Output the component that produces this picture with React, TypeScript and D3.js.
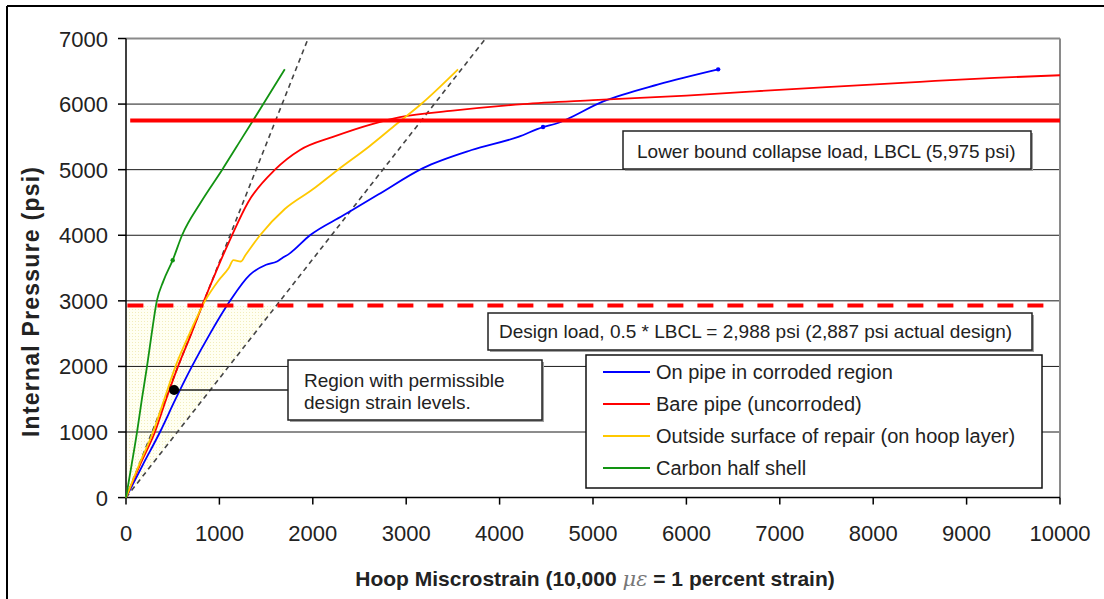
import * as d3 from 'd3'

// axis ticks
const xTicks = [0, 1000, 2000, 3000, 4000, 5000, 6000, 7000, 8000, 9000, 10000]
const yTicks = [0, 1000, 2000, 3000, 4000, 5000, 6000, 7000]

// measured strain (x) vs internal pressure (y)
const corroded: [number, number][] = [
  [0, 0], [180, 500], [364, 1000], [530, 1500], [706, 2000], [900, 2500], [1114, 3000],
  [1328, 3400], [1500, 3550], [1617, 3600], [1670, 3650], [1750, 3720], [1970, 4000],
  [2323, 4300], [2700, 4620], [3180, 5024], [3700, 5300], [4200, 5500], [4465, 5650],
  [4600, 5700], [5110, 6040], [5700, 6300], [6340, 6530],
]
const bare: [number, number][] = [
  [0, 0], [150, 500], [310, 1000], [430, 1500], [557, 2000], [700, 2500], [835, 3000],
  [980, 3500], [1135, 4000], [1306, 4500], [1595, 5000], [1863, 5300], [2216, 5500],
  [2645, 5700], [2934, 5800], [3500, 5900], [4250, 6000], [5000, 6060], [6000, 6130],
  [6680, 6190], [7500, 6260], [8500, 6340], [9300, 6400], [10000, 6440],
]
const repair: [number, number][] = [
  [0, 0], [140, 500], [290, 1000], [410, 1500], [530, 2000], [680, 2500], [846, 3000],
  [985, 3300], [1100, 3500], [1150, 3620], [1230, 3600], [1280, 3700], [1435, 4000],
  [1700, 4400], [2000, 4700], [2270, 5000], [2600, 5350], [2900, 5700], [3170, 6013],
  [3555, 6530],
]
const halfShell: [number, number][] = [
  [0, 0], [60, 500], [118, 1000], [170, 1500], [225, 2000], [275, 2500], [330, 3000],
  [400, 3300], [500, 3620], [600, 4000], [800, 4500], [1030, 5000], [1250, 5500],
  [1470, 6000], [1700, 6530],
]

const seriesNames = [
  'On pipe in corroded region',
  'Bare pipe (uncorroded)',
  'Outside surface of repair (on hoop layer)',
  'Carbon half shell',
]
const seriesColors = ['#0000ff', '#ff0000', '#ffc800', '#129312']
const seriesData = [corroded, bare, repair, halfShell]

// reference lines
const lbclLine = 5750
const designLine = 2930
const slopeLines: [number, number][] = [[1950, 7000], [3850, 7000]]
const permissiblePoint: [number, number] = [515, 1640]

const FONT = 'Liberation Sans, Arial, sans-serif'
const W = 1104
const H = 599

export default function App() {
  const x = d3.scaleLinear().domain([0, 10000]).range([126, 1060])
  const y = d3.scaleLinear().domain([0, 7000]).range([497.6, 38.5])

  const line = d3.line<[number, number]>()
    .x(d => x(d[0]))
    .y(d => y(d[1]))
  const smooth = d3.line<[number, number]>()
    .x(d => x(d[0]))
    .y(d => y(d[1]))
    .curve(d3.curveMonotoneX)

  // permissible region: under design load, left of the outer slope line
  const outer = slopeLines[1]
  const regionEdge = designLine * outer[0] / outer[1]
  const region: [number, number][] = [[0, 0], [0, designLine], [regionEdge, designLine]]

  const box = (bx: number, by: number, bw: number, bh: number) => (
    <g>
      <rect x={bx + 2} y={by + 2} width={bw} height={bh} fill="#a0a0a0" />
      <rect x={bx} y={by} width={bw} height={bh} fill="#fff" stroke="#222" strokeWidth={1.5} />
    </g>
  )

  return (
    <div style={{ position: 'absolute', left: 0, top: 0 }}>
      <svg width={W} height={H} style={{ display: 'block', background: '#fff' }} fontFamily={FONT}>
        <defs>
          <pattern id="dots" width={3} height={3} patternUnits="userSpaceOnUse">
            <rect width={3} height={3} fill="#fffff2" />
            <rect width={1} height={1} fill="#f2edbc" />
          </pattern>
        </defs>

        {/* outer frame */}
        <line x1={7} x2={W} y1={6} y2={6} stroke="#000" strokeWidth={2} />
        <line x1={7} x2={7} y1={6} y2={H} stroke="#000" strokeWidth={2} />

        {/* shaded region */}
        <path d={line(region) + 'Z'} fill="url(#dots)" />

        {/* gridlines */}
        {yTicks.filter(t => t > 0 && t < 7000).map(t => (
          <line key={t} x1={x(0)} x2={x(10000)} y1={y(t)} y2={y(t)} stroke="#1a1a1a" strokeWidth={1} />
        ))}
        <line x1={x(0)} x2={x(10000)} y1={y(7000)} y2={y(7000)} stroke="#8a8a8a" strokeWidth={2} />
        <line x1={x(10000)} x2={x(10000)} y1={y(7000)} y2={y(0)} stroke="#8a8a8a" strokeWidth={2} />

        {/* axes */}
        <line x1={x(0)} x2={x(0)} y1={y(7000)} y2={y(0)} stroke="#000" strokeWidth={1.5} />
        <line x1={x(0)} x2={x(10000)} y1={y(0)} y2={y(0)} stroke="#000" strokeWidth={1.5} />
        {yTicks.map(t => (
          <g key={t}>
            <line x1={x(0) - 8} x2={x(0)} y1={y(t)} y2={y(t)} stroke="#000" strokeWidth={1.5} />
            <text x={108} y={y(t) + 8} textAnchor="end" fontSize={22} fill="#222">{t}</text>
          </g>
        ))}
        {xTicks.map(t => (
          <g key={t}>
            <line x1={x(t)} x2={x(t)} y1={y(0)} y2={y(0) + 7} stroke="#000" strokeWidth={1.5} />
            <text x={x(t)} y={541} textAnchor="middle" fontSize={22} fill="#222">{t}</text>
          </g>
        ))}

        {/* slope reference lines */}
        {slopeLines.map((p, i) => (
          <line key={i} x1={x(0)} y1={y(0)} x2={x(p[0])} y2={y(p[1])}
            stroke="#444" strokeWidth={1.6} strokeDasharray="5,4" />
        ))}

        {/* series */}
        {seriesData.map((s, i) => (
          <path key={i} d={smooth(s) ?? ''} fill="none" stroke={seriesColors[i]} strokeWidth={1.8} />
        ))}
        <circle cx={x(500)} cy={y(3620)} r={2.2} fill={seriesColors[3]} />
        <circle cx={x(6340)} cy={y(6530)} r={2.2} fill={seriesColors[0]} />
        <circle cx={x(4465)} cy={y(5650)} r={2.2} fill={seriesColors[0]} />

        {/* LBCL and design load */}
        <line x1={x(45)} x2={x(10000)} y1={y(lbclLine)} y2={y(lbclLine)} stroke="#ff0000" strokeWidth={4} />
        <line x1={x(15)} x2={x(9900)} y1={y(designLine)} y2={y(designLine)} stroke="#ff0000"
          strokeWidth={4} strokeDasharray="16,14" />

        {/* annotations */}
        {box(623, 131, 408, 38)}
        <text x={637} y={158} fontSize={19} fill="#222">Lower bound collapse load, LBCL (5,975 psi)</text>

        {box(488, 313, 544, 37)}
        <text x={499} y={338} fontSize={19} fill="#222">Design load, 0.5 * LBCL = 2,988 psi (2,887 psi actual design)</text>

        <line x1={x(permissiblePoint[0])} x2={288} y1={y(permissiblePoint[1])} y2={y(permissiblePoint[1])}
          stroke="#222" strokeWidth={1.5} />
        <circle cx={x(permissiblePoint[0])} cy={y(permissiblePoint[1])} r={5} fill="#000" />
        {box(288, 360, 254, 60)}
        <text x={304} y={387} fontSize={19} fill="#222">Region with permissible</text>
        <text x={304} y={409} fontSize={19} fill="#222">design strain levels.</text>

        {/* legend */}
        <rect x={586} y={355} width={456} height={133} fill="#fff" stroke="#111" strokeWidth={1.5} />
        {seriesNames.map((n, i) => (
          <g key={n} transform={`translate(603, ${372 + i * 32})`}>
            <line x1={0} x2={47} y1={0} y2={0} stroke={seriesColors[i]} strokeWidth={1.8} />
            <text x={53} y={7} fontSize={20} fill="#222">{n}</text>
          </g>
        ))}

        {/* axis titles */}
        <text transform="translate(39, 302) rotate(-90)" textAnchor="middle" fontSize={23}
          fontWeight="bold" fill="#222" textLength={270} lengthAdjust="spacing">Internal Pressure (psi)</text>
        <text x={595} y={586} textAnchor="middle" fontSize={21} fontWeight="bold" fill="#222">
          Hoop Miscrostrain (10,000{' '}
          <tspan fontFamily="DejaVu Serif, serif" fontStyle="italic" fontWeight="normal" fill="#777">μɛ</tspan>
          {' '}= 1 percent strain)
        </text>
      </svg>
    </div>
  )
}
